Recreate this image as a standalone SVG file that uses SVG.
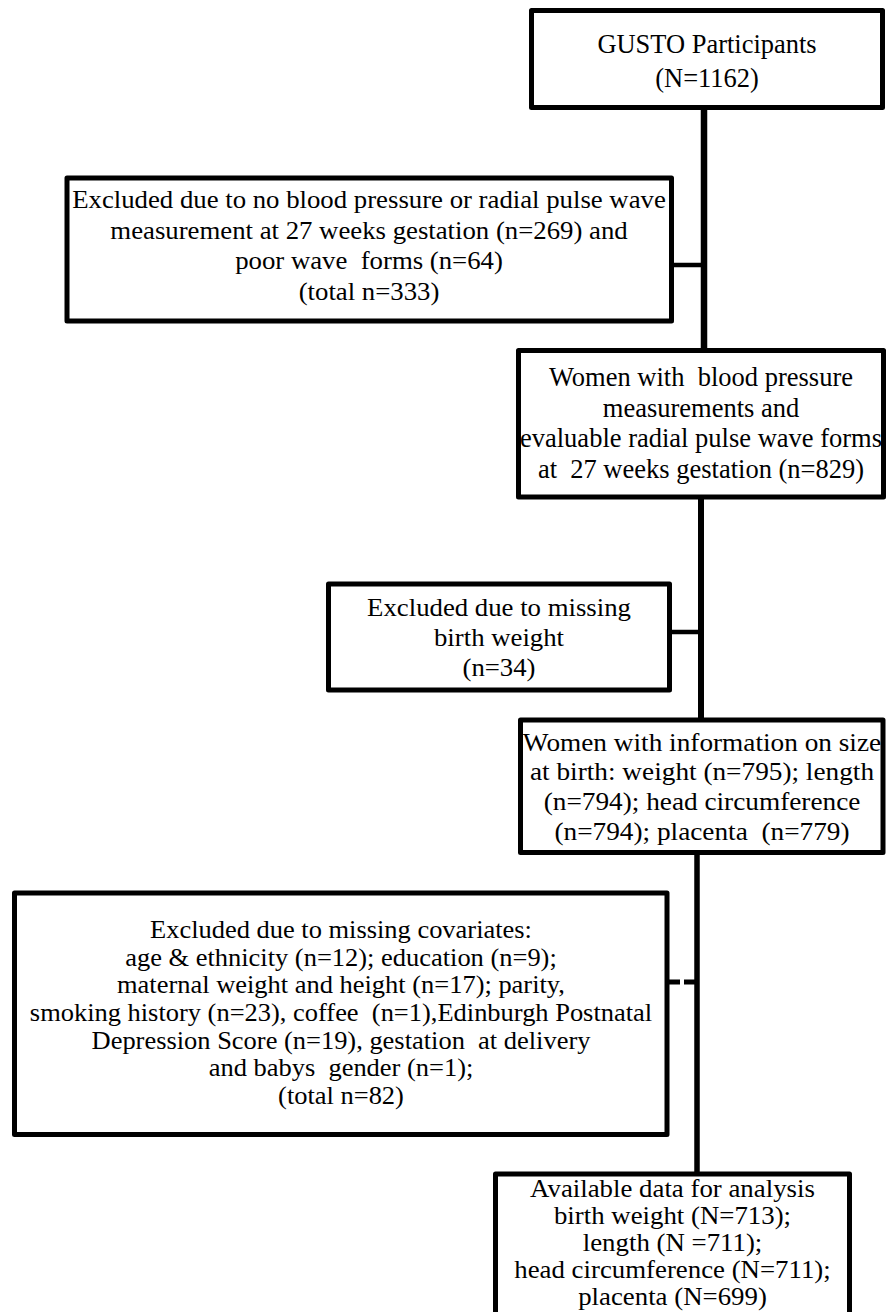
<svg xmlns="http://www.w3.org/2000/svg" width="889" height="1312" viewBox="0 0 889 1312">
  <style>
    .box { fill: #ffffff; stroke: #000000; stroke-width: 5; stroke-linejoin: round; }
    .conn { stroke: #000000; fill: none; }
    text { font-family: "Liberation Serif", "Times New Roman", serif; fill: #000000; text-anchor: middle; white-space: pre; }
  </style>
  <rect width="889" height="1312" fill="#ffffff"/>

  <g id="connectors">
    <line class="conn" x1="704" y1="106" x2="704" y2="352" stroke-width="6.5"/>
    <line class="conn" x1="671" y1="265" x2="704" y2="265" stroke-width="4.5"/>
    <line class="conn" x1="701" y1="495" x2="701" y2="722" stroke-width="6"/>
    <line class="conn" x1="670" y1="632" x2="701" y2="632" stroke-width="4.5"/>
    <line class="conn" x1="697" y1="850" x2="697" y2="1176" stroke-width="5.5"/>
    <line class="conn" x1="669" y1="982" x2="697" y2="982" stroke-width="5" stroke-dasharray="11 4"/>
  </g>

  <g id="gusto">
    <rect class="box" x="531.5" y="10.5" width="351" height="97"/>
    <g transform="translate(707 0) scale(0.98 1)" font-size="27">
      <text x="0" y="53" xml:space="preserve">GUSTO Participants</text>
      <text x="0" y="87" xml:space="preserve">(N=1162)</text>
    </g>
  </g>

  <g id="excluded1">
    <rect class="box" x="67" y="178" width="604.5" height="143"/>
    <g transform="translate(369 0) scale(1.05 1)" font-size="25.5">
      <text x="0" y="208.5" xml:space="preserve">Excluded due to no blood pressure or radial pulse wave</text>
      <text x="0" y="239" xml:space="preserve">measurement at 27 weeks gestation (n=269) and</text>
      <text x="0" y="269.5" xml:space="preserve">poor wave  forms (n=64)</text>
      <text x="0" y="300" xml:space="preserve">(total n=333)</text>
    </g>
  </g>

  <g id="women829">
    <rect class="box" x="518.5" y="350.5" width="365" height="146.5"/>
    <g transform="translate(701 0) scale(1.0 1)" font-size="26.5">
      <text x="0" y="386" xml:space="preserve">Women with  blood pressure</text>
      <text x="0" y="416.5" xml:space="preserve">measurements and</text>
      <text x="0" y="447" xml:space="preserve">evaluable radial pulse wave forms</text>
      <text x="0" y="477.5" xml:space="preserve">at  27 weeks gestation (n=829)</text>
    </g>
  </g>

  <g id="excluded2">
    <rect class="box" x="328.5" y="584" width="341" height="106"/>
    <g transform="translate(499 0) scale(1.05 1)" font-size="25.5">
      <text x="0" y="616" xml:space="preserve">Excluded due to missing</text>
      <text x="0" y="646" xml:space="preserve">birth weight</text>
      <text x="0" y="676.5" xml:space="preserve">(n=34)</text>
    </g>
  </g>

  <g id="women-size">
    <rect class="box" x="520.5" y="720" width="362.5" height="132.5"/>
    <g transform="translate(702 0) scale(1.07 1)" font-size="25.5">
      <text x="0" y="751" xml:space="preserve">Women with information on size</text>
      <text x="0" y="780.5" xml:space="preserve">at birth: weight (n=795); length</text>
      <text x="0" y="810.5" xml:space="preserve">(n=794); head circumference</text>
      <text x="0" y="840.5" xml:space="preserve">(n=794); placenta  (n=779)</text>
    </g>
  </g>

  <g id="excluded3">
    <rect class="box" x="14.5" y="893" width="652.5" height="241.5"/>
    <g transform="translate(341 0) scale(1.08 1)" font-size="24.5">
      <text x="0" y="938" xml:space="preserve">Excluded due to missing covariates:</text>
      <text x="0" y="965.7" xml:space="preserve">age &amp; ethnicity (n=12); education (n=9);</text>
      <text x="0" y="993.4" xml:space="preserve">maternal weight and height (n=17); parity,</text>
      <text x="0" y="1021.1" xml:space="preserve">smoking history (n=23), coffee  (n=1),Edinburgh Postnatal</text>
      <text x="0" y="1048.8" xml:space="preserve">Depression Score (n=19), gestation  at delivery</text>
      <text x="0" y="1076.5" xml:space="preserve">and babys  gender (n=1);</text>
      <text x="0" y="1104.2" xml:space="preserve">(total n=82)</text>
    </g>
  </g>

  <g id="analysis">
    <rect class="box" x="495.5" y="1174" width="354" height="150"/>
    <g transform="translate(672.5 0) scale(1.095 1)" font-size="24.5">
      <text x="0" y="1197" xml:space="preserve">Available data for analysis</text>
      <text x="0" y="1224" xml:space="preserve">birth weight (N=713);</text>
      <text x="0" y="1251" xml:space="preserve">length (N =711);</text>
      <text x="0" y="1278" xml:space="preserve">head circumference (N=711);</text>
      <text x="0" y="1305" xml:space="preserve">placenta (N=699)</text>
    </g>
  </g>
</svg>
